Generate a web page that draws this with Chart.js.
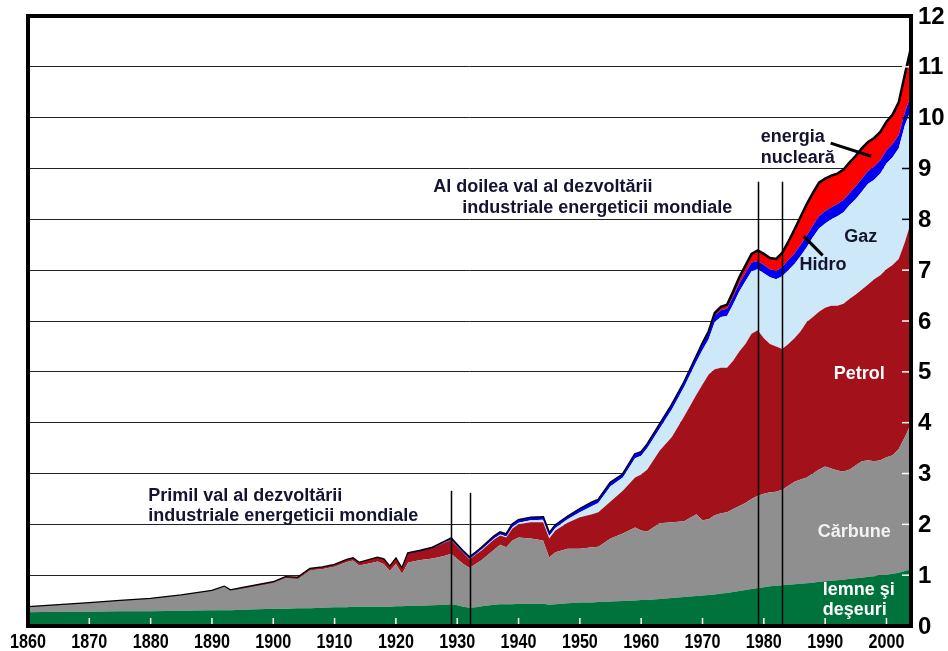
<!DOCTYPE html>
<html>
<head>
<meta charset="utf-8">
<script src="https://cdn.jsdelivr.net/npm/chart.js@4.4.1/dist/chart.umd.min.js"></script>
<style>
  html, body { margin: 0; padding: 0; background: #fff; }
</style>
</head>
<body>
<canvas id="chart" width="948" height="651"></canvas>
<script>
// ani (axa x)
const years = [1860,1865,1870,1875,1880,1885,1890,1892,1893,1895,
  1900,1902,1904,1906,1908,1910,1912,1913,1914,1916,
  1917,1918,1919,1920,1921,1922,1924,1926,1928,1929,
  1930,1931,1932,1933,1934,1936,1937,1938,1939,1940,
  1942,1944,1945,1946,1948,1950,1952,1953,1955,1957,
  1959,1960,1961,1963,1965,1967,1969,1970,1971,1972,
  1973,1974,1975,1976,1977,1978,1979,1980,1981,1982,
  1983,1984,1985,1986,1987,1988,1989,1990,1991,1992,
  1993,1994,1995,1996,1997,1998,1999,2000,2001,2002,
  2003,2004];

// valori pe surse (mld. tep)
const lemne = [.27,.28,.28,.29,.29,.30,.31,.31,.31,.32,
  .34,.34,.35,.35,.36,.37,.37,.38,.38,.38,
  .38,.38,.38,.39,.39,.40,.40,.41,.42,.43,
  .41,.38,.36,.37,.39,.42,.43,.43,.43,.44,
  .44,.44,.42,.43,.45,.46,.46,.47,.48,.49,
  .50,.51,.51,.53,.55,.57,.59,.60,.61,.62,
  .64,.65,.67,.69,.71,.73,.75,.76,.78,.79,
  .80,.81,.82,.83,.84,.85,.87,.88,.89,.90,
  .91,.93,.94,.95,.97,.98,1.00,1.01,1.03,1.05,
  1.08,1.11];
const carbune = [.10,.13,.17,.20,.24,.30,.38,.46,.39,.42,
  .51,.61,.58,.75,.76,.80,.89,.91,.81,.86,
  .89,.84,.70,.83,.64,.85,.90,.92,.96,.99,
  .91,.84,.78,.85,.91,1.08,1.17,1.12,1.25,1.30,
  1.28,1.24,.93,1.02,1.07,1.06,1.09,1.09,1.24,1.33,
  1.44,1.37,1.35,1.49,1.49,1.49,1.61,1.48,1.49,1.56,
  1.58,1.59,1.63,1.67,1.71,1.77,1.81,1.84,1.85,1.85,
  1.88,1.95,2.02,2.05,2.08,2.15,2.21,2.26,2.21,2.16,
  2.13,2.15,2.22,2.29,2.29,2.26,2.26,2.31,2.33,2.43,
  2.64,2.87];
const petrol = [0,0,0,0,0,0,0,0,0,.01,
  .01,.01,.02,.02,.03,.03,.04,.04,.05,.07,
  .07,.09,.08,.10,.09,.17,.17,.20,.26,.27,
  .24,.21,.17,.18,.19,.20,.18,.19,.24,.26,
  .32,.36,.37,.43,.51,.62,.65,.68,.73,.84,
  .98,1.10,1.22,1.43,1.68,2.06,2.35,2.67,2.85,2.87,
  2.86,2.84,2.92,3.04,3.13,3.25,3.26,3.06,2.92,2.86,
  2.77,2.79,2.82,2.92,3.06,3.08,3.10,3.12,3.20,3.24,
  3.30,3.36,3.36,3.38,3.46,3.58,3.64,3.70,3.74,3.74,
  3.83,3.97];
const gaz = [0,0,0,0,0,0,0,0,0,0,
  0,0,0,0,0,0,0,0,0,0,
  0,0,0,0,0,0,0,0,.01,.01,
  .01,.01,.01,.01,.02,.02,.02,.02,.03,.03,
  .04,.05,.05,.05,.07,.10,.16,.18,.30,.26,
  .38,.37,.42,.43,.54,.58,.65,.68,.69,.93,
  1.00,1.02,1.11,1.18,1.23,1.23,1.20,1.28,1.31,1.32,
  1.43,1.45,1.46,1.48,1.47,1.57,1.64,1.66,1.70,1.76,
  1.80,1.84,1.88,1.93,1.98,1.96,2.00,2.08,2.12,2.18,
  2.30,2.20];
const hidro = [0,0,0,0,0,0,0,0,0,0,
  0,0,0,0,0,0,0,0,0,0,
  0,0,0,0,0,.01,.01,.01,.01,.02,
  .02,.02,.03,.03,.03,.04,.04,.04,.05,.05,
  .05,.05,.05,.05,.05,.06,.07,.06,.07,.06,
  .08,.07,.07,.08,.09,.09,.10,.11,.12,.13,
  .13,.14,.15,.16,.17,.17,.16,.16,.16,.16,
  .18,.20,.21,.22,.23,.23,.24,.24,.24,.24,
  .24,.24,.25,.25,.25,.26,.26,.26,.26,.26,
  .25,.30];
const nuclear = [0,0,0,0,0,0,0,0,0,0,
  0,0,0,0,0,0,0,0,0,0,
  0,0,0,0,0,0,0,0,0,0,
  0,0,0,0,0,0,0,0,0,0,
  0,0,0,0,0,0,0,0,0,0,
  0,0,0,0,0,0,0,.02,.03,.05,
  .07,.08,.10,.12,.14,.17,.21,.22,.22,.24,
  .28,.36,.47,.55,.62,.64,.66,.64,.62,.60,
  .60,.60,.60,.60,.57,.56,.56,.56,.58,.64,
  .75,.93];

// cele doua valuri (liniile verticale)
const waveYears = [1929, 1932, 1979, 1983];
const waveTops = [2.66, 2.62, 8.74, 8.74];

const dark = '#141432';
const notes = [
  ['Primil val al dezvoltării', 1879.6, 2.46, dark],
  ['industriale energeticii mondiale', 1879.6, 2.07, dark],
  ['Al doilea val al dezvoltării', 1926.1, 8.53, dark],
  ['industriale energeticii mondiale', 1930.8, 8.12, dark],
  ['energia', 1979.5, 9.52, dark],
  ['nucleară', 1979.5, 9.10, dark],
  ['Gaz', 1993.1, 7.55, dark],
  ['Hidro', 1985.8, 7.00, dark],
  ['Petrol', 1991.4, 4.85, '#fff'],
  ['Cărbune', 1988.8, 1.75, '#f2f2f2'],
  ['lemne şi', 1989.6, 0.61, '#fff'],
  ['deşeuri', 1989.6, 0.22, '#fff']
];
const pointers = [[1990.9, 9.50, 1997.5, 9.24], [1986.5, 7.67, 1989.6, 7.29]];

function serie(values, color, extra) {
  return Object.assign({
    data: years.map((yr, i) => ({x: yr, y: values[i]})),
    backgroundColor: color,
    borderColor: color,
    borderWidth: 0,
    pointRadius: 0,
    tension: 0,
    fill: '-1'
  }, extra || {});
}

const extras = {
  id: 'extras',
  afterDatasetsDraw(chart) {
    const {ctx, chartArea: a, scales: {x, y}} = chart;
    ctx.save();
    // linii verticale
    ctx.strokeStyle = '#000';
    ctx.lineWidth = 1.5;
    waveYears.forEach((yr, i) => {
      const px = Math.round(x.getPixelForValue(yr)) + 0.5;
      ctx.beginPath();
      ctx.moveTo(px, y.getPixelForValue(waveTops[i]));
      ctx.lineTo(px, a.bottom);
      ctx.stroke();
    });
    // semne interioare
    ctx.lineWidth = 1.5;
    ctx.strokeStyle = '#fff';
    for (let yr = 1870; yr <= 2000; yr += 10) {
      const px = x.getPixelForValue(yr);
      ctx.beginPath();
      ctx.moveTo(px, a.bottom - 2);
      ctx.lineTo(px, a.bottom - 8);
      ctx.stroke();
    }
    const n = years.length - 1;
    const oilTop = lemne[n] + carbune[n] + petrol[n];
    const gasTop = oilTop + gaz[n];
    for (let v = 1; v <= 11; v++) {
      const py = y.getPixelForValue(v);
      ctx.strokeStyle = (v > oilTop && v < gasTop) ? '#000' : '#fff';
      ctx.beginPath();
      ctx.moveTo(a.right - 2, py);
      ctx.lineTo(a.right - 9, py);
      ctx.stroke();
    }
    // rama
    ctx.strokeStyle = '#000';
    ctx.lineWidth = 4;
    ctx.strokeRect(a.left, a.top, a.right - a.left, a.bottom - a.top);
    // sageti
    ctx.lineWidth = 3;
    pointers.forEach(p => {
      ctx.beginPath();
      ctx.moveTo(x.getPixelForValue(p[0]), y.getPixelForValue(p[1]));
      ctx.lineTo(x.getPixelForValue(p[2]), y.getPixelForValue(p[3]));
      ctx.stroke();
    });
    // texte
    ctx.font = 'bold 18px "Liberation Sans", Arial, sans-serif';
    ctx.textAlign = 'left';
    ctx.textBaseline = 'alphabetic';
    notes.forEach(t => {
      ctx.fillStyle = t[3];
      ctx.fillText(t[0], x.getPixelForValue(t[1]), y.getPixelForValue(t[2]));
    });
    // etichete axe
    ctx.fillStyle = '#000';
    ctx.font = 'bold 21px "Liberation Sans", Arial, sans-serif';
    ctx.textAlign = 'center';
    x.ticks.forEach(t => {
      ctx.save();
      ctx.translate(x.getPixelForValue(t.value), a.bottom + 22);
      ctx.scale(0.77, 1);
      ctx.fillText(String(t.value), 0, 0);
      ctx.restore();
    });
    ctx.font = 'bold 24px "Liberation Sans", Arial, sans-serif';
    ctx.textAlign = 'left';
    ctx.textBaseline = 'middle';
    y.ticks.forEach(t => {
      ctx.fillText(String(t.value), a.right + 7, y.getPixelForValue(t.value) + 1);
    });
    ctx.restore();
  }
};

new Chart(document.getElementById('chart').getContext('2d'), {
  type: 'line',
  data: {
    datasets: [
      serie(lemne, '#00733c', {label: 'lemne şi deşeuri', fill: 'origin'}),
      serie(carbune, '#8f8f8f', {label: 'Cărbune'}),
      serie(petrol, '#a3111a', {label: 'Petrol'}),
      serie(gaz, '#cde9f9', {label: 'Gaz'}),
      serie(hidro, '#0000f0', {label: 'Hidro'}),
      serie(nuclear, '#ff0000', {label: 'energia nucleară', borderColor: '#000', borderWidth: 2.5})
    ]
  },
  options: {
    responsive: false,
    animation: false,
    layout: {padding: {left: 28, top: 16, right: 37, bottom: 25}},
    plugins: {legend: {display: false}, tooltip: {enabled: false}},
    scales: {
      x: {
        type: 'linear', min: 1860, max: 2004,
        grid: {display: false, drawTicks: false},
        border: {display: false},
        ticks: {display: false, stepSize: 10, includeBounds: false, autoSkip: false}
      },
      y: {
        position: 'right', stacked: true, min: 0, max: 12,
        grid: {color: '#222', lineWidth: 1, drawTicks: false},
        border: {display: false},
        ticks: {display: false, stepSize: 1}
      }
    }
  },
  plugins: [extras]
});
</script>
</body>
</html>
